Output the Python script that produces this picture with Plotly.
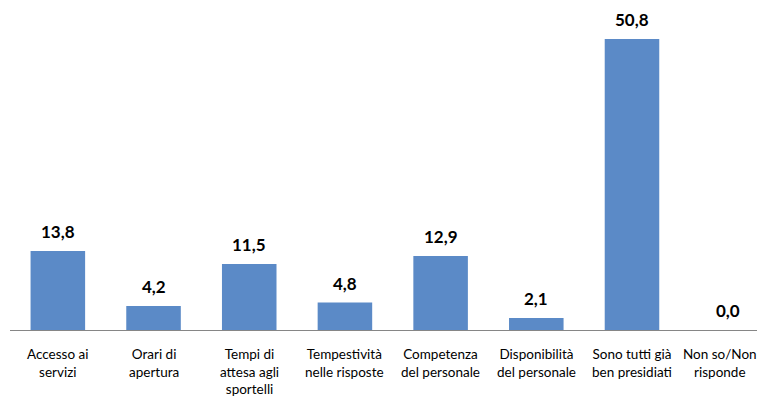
import plotly.graph_objects as go

categories = ["Accesso ai<br>servizi", "Orari di<br>apertura", "Tempi di<br>attesa agli<br>sportelli",
              "Tempestività<br>nelle risposte", "Competenza<br>del personale", "Disponibilità<br>del personale",
              "Sono tutti già<br>ben presidiati", "Non so/Non<br>risponde"]
values = [13.8, 4.2, 11.5, 4.8, 12.9, 2.1, 50.8, 0.0]
labels = [f"{v:.1f}".replace(".", ",") for v in values]

FONT = "Lato, Open Sans, sans-serif"

fig = go.Figure()
fig.add_trace(go.Bar(x=categories, y=values, width=0.57,
                     marker=dict(color="#5B8AC7", line=dict(width=0)),
                     hoverinfo="skip"))
for i, (c, v, t) in enumerate(zip(categories, values, labels)):
    fig.add_annotation(x=c, y=v, text=f"<b>{t}</b>", showarrow=False,
                       yanchor="bottom", yshift=7,
                       font=dict(family=FONT, size=17, color="#000000"))
    fig.add_annotation(x=c, y=0, text=c, showarrow=False, align="center",
                       yanchor="top", yshift=-14,
                       xshift=-8 if i == len(categories) - 1 else 0,
                       font=dict(family=FONT, size=13.5, color="#000000"))

fig.update_layout(
    width=757, height=392,
    margin=dict(l=2, r=0, t=0, b=70),
    paper_bgcolor="white", plot_bgcolor="white",
    showlegend=False,
    font=dict(family=FONT, size=13.5, color="#000000"),
    xaxis=dict(range=[-0.5, 7.39], showline=True, linecolor="#868686", linewidth=1,
               ticks="", showgrid=False, zeroline=False, showticklabels=False),
    yaxis=dict(range=[0, 56.2], visible=False, showgrid=False, zeroline=False),
)
fig.write_html("out.html")
